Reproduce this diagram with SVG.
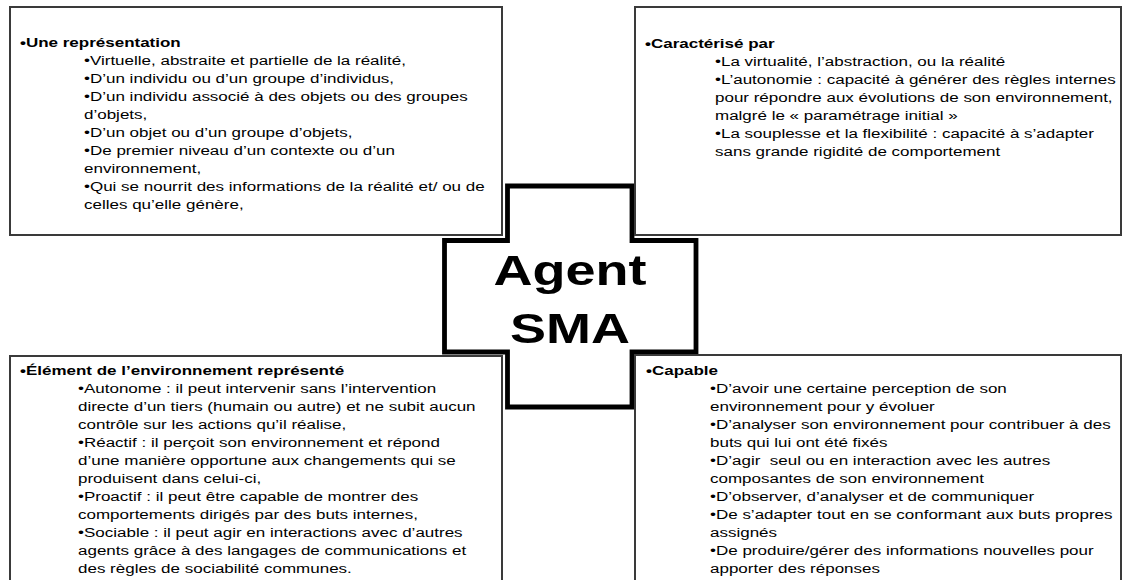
<svg xmlns="http://www.w3.org/2000/svg" width="1127" height="580" viewBox="0 0 1127 580">
<style>
.box{fill:#fff;stroke:#3a3a3a;stroke-width:2}
.t{font-family:"Liberation Sans",Arial,sans-serif;font-size:17px;fill:#000}
.h{font-weight:bold}
.big{font-family:"Liberation Sans",Arial,sans-serif;font-size:54px;font-weight:bold;fill:#000;text-anchor:middle}
</style>
<rect width="1127" height="580" fill="#fff"/>
<g id="connectors"></g>
<g id="agent">
<path d="M507.5,186 H632 V240.5 H696 V352 H632 V407 H507.5 V352 H444.5 V240.5 H507.5 Z" fill="#fff" stroke="#000" stroke-width="4.8"/>
<text class="big" transform="translate(570,285) scale(1,0.8)" x="0" y="0">Agent</text>
<text class="big" transform="translate(570,343) scale(1,0.8)" x="0" y="0">SMA</text>
</g>
<g id="representation">
<rect class="box" x="10" y="7" width="492" height="228"/>
<g transform="translate(0,47) scale(1,0.78)">
<text class="t">
<tspan class="h" x="20" y="0">•Une représentation</tspan>
<tspan x="84" y="23.08">•Virtuelle, abstraite et partielle de la réalité,</tspan>
<tspan x="84" y="46.15">•D’un individu ou d’un groupe d’individus,</tspan>
<tspan x="84" y="69.23">•D’un individu associé à des objets ou des groupes</tspan>
<tspan x="84" y="92.31">d’objets,</tspan>
<tspan x="84" y="115.38">•D’un objet ou d’un groupe d’objets,</tspan>
<tspan x="84" y="138.46">•De premier niveau d’un contexte ou d’un</tspan>
<tspan x="84" y="161.54">environnement,</tspan>
<tspan x="84" y="184.62">•Qui se nourrit des informations de la réalité et/ ou de</tspan>
<tspan x="84" y="207.69">celles qu’elle génère,</tspan>
</text>
</g>
</g>
<g id="caracterise">
<rect class="box" x="635" y="7" width="486" height="228"/>
<g transform="translate(0,48) scale(1,0.78)">
<text class="t">
<tspan class="h" x="645" y="0">•Caractérisé par</tspan>
<tspan x="715" y="23.08">•La virtualité, l’abstraction, ou la réalité</tspan>
<tspan x="715" y="46.15">•L’autonomie : capacité à générer des règles internes</tspan>
<tspan x="715" y="69.23">pour répondre aux évolutions de son environnement,</tspan>
<tspan x="715" y="92.31">malgré le « paramétrage initial »</tspan>
<tspan x="715" y="115.38">•La souplesse et la flexibilité : capacité à s’adapter</tspan>
<tspan x="715" y="138.46">sans grande rigidité de comportement</tspan>
</text>
</g>
</g>
<g id="element">
<rect class="box" x="10" y="356" width="492" height="240"/>
<g transform="translate(0,375) scale(1,0.78)">
<text class="t">
<tspan class="h" x="20" y="0">•Élément de l’environnement représenté</tspan>
<tspan x="78" y="23.08">•Autonome : il peut intervenir sans l’intervention</tspan>
<tspan x="78" y="46.15">directe d’un tiers (humain ou autre) et ne subit aucun</tspan>
<tspan x="78" y="69.23">contrôle sur les actions qu’il réalise,</tspan>
<tspan x="78" y="92.31">•Réactif : il perçoit son environnement et répond</tspan>
<tspan x="78" y="115.38">d’une manière opportune aux changements qui se</tspan>
<tspan x="78" y="138.46">produisent dans celui-ci,</tspan>
<tspan x="78" y="161.54">•Proactif : il peut être capable de montrer des</tspan>
<tspan x="78" y="184.62">comportements dirigés par des buts internes,</tspan>
<tspan x="78" y="207.69">•Sociable : il peut agir en interactions avec d’autres</tspan>
<tspan x="78" y="230.77">agents grâce à des langages de communications et</tspan>
<tspan x="78" y="253.85">des règles de sociabilité communes.</tspan>
</text>
</g>
</g>
<g id="capable">
<rect class="box" x="635" y="355" width="486" height="240"/>
<g transform="translate(0,375) scale(1,0.78)">
<text class="t" xml:space="preserve">
<tspan class="h" x="646" y="0">•Capable</tspan>
<tspan x="710" y="23.08">•D’avoir une certaine perception de son</tspan>
<tspan x="710" y="46.15">environnement pour y évoluer</tspan>
<tspan x="710" y="69.23">•D’analyser son environnement pour contribuer à des</tspan>
<tspan x="710" y="92.31">buts qui lui ont été fixés</tspan>
<tspan x="710" y="115.38">•D’agir  seul ou en interaction avec les autres</tspan>
<tspan x="710" y="138.46">composantes de son environnement</tspan>
<tspan x="710" y="161.54">•D’observer, d’analyser et de communiquer</tspan>
<tspan x="710" y="184.62">•De s’adapter tout en se conformant aux buts propres</tspan>
<tspan x="710" y="207.69">assignés</tspan>
<tspan x="710" y="230.77">•De produire/gérer des informations nouvelles pour</tspan>
<tspan x="710" y="253.85">apporter des réponses</tspan>
</text>
</g>
</g>
</svg>
